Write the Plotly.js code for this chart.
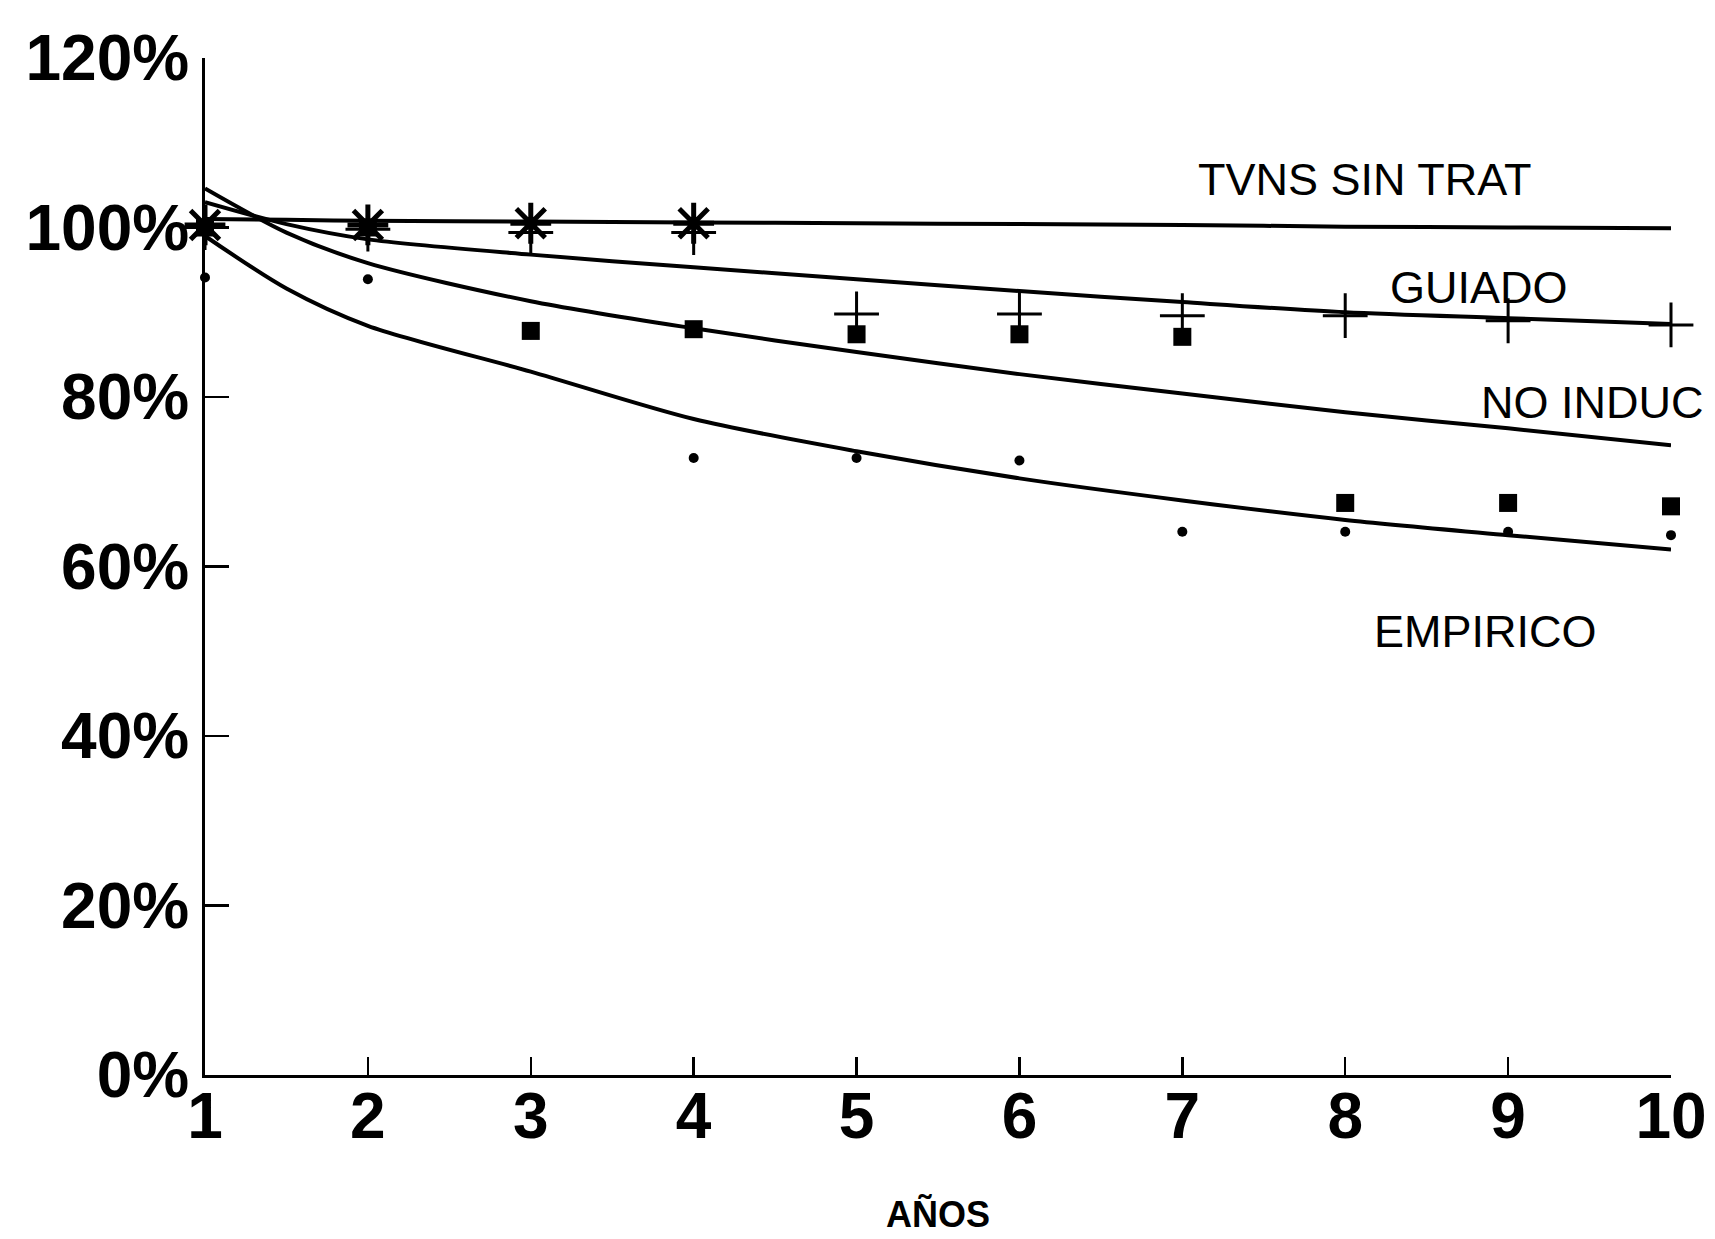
<!DOCTYPE html>
<html>
<head>
<meta charset="utf-8">
<script src="https://cdn.plot.ly/plotly-3.0.1.min.js"></script>
<style>
  html, body { margin: 0; padding: 0; background: #fff; }
  #chart { width: 1715px; height: 1239px; }
</style>
</head>
<body>
<div id="chart"></div>
<script>
// ---- Data ----
const years = [1, 2, 3, 4, 5, 6, 7, 8, 9, 10];

// fitted curves (x positions where read, y in %)
const curveX = [1, 1.5, 2, 3, 4, 5, 6, 7, 8, 9, 10];
const tvnsCurve     = [101.0, 100.9, 100.8, 100.7, 100.6, 100.5, 100.4, 100.3, 100.1, 100.0, 99.9];
const guiadoCurve   = [103.0, 100.4, 98.6, 96.8, 95.3, 93.9, 92.5, 91.2, 90.0, 89.3, 88.6];
const noInducCurve  = [104.6, 99.4, 95.8, 91.3, 88.1, 85.3, 82.7, 80.4, 78.2, 76.3, 74.3];
const empiricoCurve = [99.0, 92.8, 88.4, 83.0, 77.4, 73.6, 70.4, 67.8, 65.5, 63.7, 62.0];

// observed points
const tvnsYears = [1, 2, 3, 4];
const tvnsPoints = [100.3, 100.3, 100.5, 100.5];
const guiadoPoints = [100.0, 99.8, 99.4, 99.4, 89.8, 89.8, 89.6, 89.6, 89.0, 88.5];
const noInducPoints = [100.0, 100.0, 87.8, 88.0, 87.4, 87.4, 87.1, 67.5, 67.5, 67.1];
const empiricoPoints = [94.1, 93.9, 87.4, 72.8, 72.8, 72.5, 64.1, 64.1, 64.1, 63.7];

const yTicks = [0, 20, 40, 60, 80, 100, 120];
const yTickText = ['0%', '20%', '40%', '60%', '80%', '100%', '120%'];
const xTickText = ['1', '2', '3', '4', '5', '6', '7', '8', '9', '10'];

const seriesLabels = ['TVNS SIN TRAT', 'GUIADO', 'NO INDUC', 'EMPIRICO'];
const xTitle = 'AÑOS';

// ---- Traces ----
const lineStyle = { color: '#000', width: 4, shape: 'spline', smoothing: 0.8 };
function curve(y, name) {
  return { x: curveX, y: y, mode: 'lines', line: lineStyle, name: name,
           hoverinfo: 'skip', showlegend: false };
}
const traces = [
  curve(tvnsCurve, seriesLabels[0]),
  curve(guiadoCurve, seriesLabels[1]),
  curve(noInducCurve, seriesLabels[2]),
  curve(empiricoCurve, seriesLabels[3]),
  { x: years, y: empiricoPoints, mode: 'markers', showlegend: false, cliponaxis: false,
    marker: { symbol: 'circle', size: 10, color: '#000' } },
  { x: years, y: noInducPoints, mode: 'markers', showlegend: false, cliponaxis: false,
    marker: { symbol: 'square', size: 18, color: '#000' } },
  { x: years, y: guiadoPoints, mode: 'markers', showlegend: false, cliponaxis: false,
    marker: { symbol: 'cross-thin-open', size: 32, color: '#000', line: { color: '#000', width: 3 } } },
  { x: tvnsYears, y: tvnsPoints, mode: 'markers', showlegend: false, cliponaxis: false,
    marker: { symbol: 'asterisk-open', size: 34, color: '#000', line: { color: '#000', width: 5 } } }
];

const tickFont = { family: 'Liberation Sans, Arial, sans-serif', size: 64, weight: 'bold', color: '#000' };
const labelFont = { family: 'Liberation Sans, Arial, sans-serif', size: 45, color: '#000' };

const annXY = [[8.12, 105.7], [8.82, 92.9], [9.52, 79.3], [8.86, 52.3]];
const annotations = seriesLabels.map((t, i) => ({
  x: annXY[i][0], y: annXY[i][1], xref: 'x', yref: 'y', text: t, showarrow: false,
  xanchor: 'center', yanchor: 'middle', font: labelFont
}));
// x-axis title, near the bottom edge as in the reference
annotations.push({
  x: 0.5, y: -0.159, xref: 'paper', yref: 'paper', text: xTitle, showarrow: false,
  xanchor: 'center', yanchor: 'bottom',
  font: { family: 'Liberation Sans, Arial, sans-serif', size: 36, weight: 'bold', color: '#000' }
});

const layout = {
  width: 1715, height: 1239,
  paper_bgcolor: '#fff', plot_bgcolor: '#fff',
  margin: { l: 205, r: 44, t: 58, b: 164 },
  showlegend: false,
  xaxis: {
    range: [1, 10], tickvals: years, ticktext: xTickText,
    showgrid: false, zeroline: false, showline: true, linecolor: '#000', linewidth: 3,
    ticks: 'inside', ticklen: 18, tickwidth: 2.5, tickcolor: '#000',
    tickfont: tickFont, ticklabelstandoff: -17
  },
  yaxis: {
    range: [0, 120], tickvals: yTicks, ticktext: yTickText,
    showgrid: false, zeroline: false, showline: true, linecolor: '#000', linewidth: 3,
    ticks: 'inside', ticklen: 24, tickwidth: 2.5, tickcolor: '#000',
    tickfont: tickFont, ticklabelstandoff: 0
  },
  annotations: annotations
};

Plotly.newPlot('chart', traces, layout, { staticPlot: true, displayModeBar: false });
</script>
</body>
</html>
